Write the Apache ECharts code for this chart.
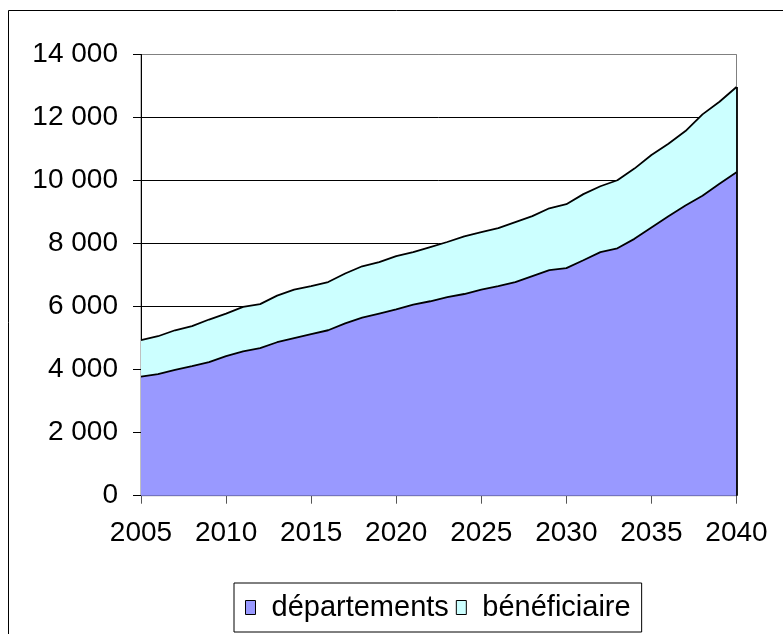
<!DOCTYPE html>
<html>
<head>
<meta charset="utf-8">
<title>départements / bénéficiaire</title>
<script src="https://cdn.jsdelivr.net/npm/echarts@6/dist/echarts.min.js"></script>
<style>
  html, body { margin: 0; padding: 0; background: #fff; }
  #chart { width: 783px; height: 634px; }
</style>
</head>
<body>
<div id="chart"></div>
<script>
  // années 2005 -> 2040
  const years = []
  for (let y = 2005; y <= 2040; y++) years.push(String(y))

  // valeurs
  const departements = [
    3780, 3860, 3990, 4110, 4240, 4430, 4580, 4680, 4870, 5000,
    5130, 5250, 5470, 5650, 5780, 5910, 6060, 6170, 6300, 6400,
    6540, 6650, 6780, 6970, 7160, 7220, 7470, 7730, 7850, 8150,
    8510, 8870, 9210, 9520, 9900, 10260
  ]
  const beneficiaire = [
    1160, 1200, 1260, 1270, 1350, 1350, 1410, 1400, 1480, 1540,
    1520, 1530, 1580, 1630, 1630, 1690, 1670, 1720, 1750, 1830,
    1820, 1840, 1900, 1900, 1960, 2030, 2100, 2090, 2160, 2230,
    2300, 2300, 2360, 2580, 2600, 2710
  ]
  const yTicks = { min: 0, max: 14000, interval: 2000 }

  const font = "'Liberation Sans', Arial, sans-serif"
  const lastIdx = years.length - 1
  const lastTotal = departements[lastIdx] + beneficiaire[lastIdx]

  function fmt(v) {
    return String(v).replace(/\B(?=(\d{3})+(?!\d))/g, ' ')
  }

  const chart = echarts.init(document.getElementById('chart'), null, { renderer: 'canvas' })
  chart.setOption({
    animation: false,
    backgroundColor: '#fff',
    textStyle: { fontFamily: font },
    graphic: [{
      type: 'rect',
      shape: { x: 8.5, y: 10.5, width: 790, height: 640 },
      style: { fill: 'none', stroke: '#000', lineWidth: 1 },
      silent: true
    }],
    grid: {
      left: 141,
      right: 46.5,
      top: 54.5,
      bottom: 138.3,
      show: true,
      borderColor: '#808080',
      borderWidth: 1,
      containLabel: false
    },
    legend: {
      left: 234,
      top: 583,
      orient: 'horizontal',
      icon: 'rect',
      itemWidth: 10,
      itemHeight: 14,
      itemGap: 7,
      padding: [10, 11, 10, 11],
      borderColor: '#000',
      borderWidth: 1,
      itemStyle: { borderColor: '#000', borderWidth: 1 },
      textStyle: { fontFamily: font, fontSize: 29, color: '#000', padding: [0, 0, 0, 11] },
      data: ['départements', 'bénéficiaire']
    },
    xAxis: {
      type: 'category',
      data: years,
      boundaryGap: false,
      axisLine: { lineStyle: { color: '#000', width: 1 } },
      axisTick: { interval: 4, length: 8, lineStyle: { color: '#555' } },
      axisLabel: { interval: 4, margin: 24, fontSize: 28, color: '#000', fontFamily: font },
      splitLine: { show: false }
    },
    yAxis: {
      type: 'value',
      min: yTicks.min,
      max: yTicks.max,
      interval: yTicks.interval,
      axisLine: { show: true, lineStyle: { color: '#000', width: 1 } },
      axisTick: { show: true, length: 8, lineStyle: { color: '#000' } },
      axisLabel: { margin: 23, fontSize: 28, color: '#000', fontFamily: font, formatter: fmt },
      splitLine: {
        show: true,
        lineStyle: {
          color: ['#000', '#000', '#000', '#000', '#000', '#000', '#000', '#808080'],
          width: 1
        }
      }
    },
    series: [
      {
        name: 'départements',
        type: 'line',
        stack: 'total',
        data: departements,
        symbol: 'none',
        itemStyle: { color: '#9999FF', borderColor: '#000', borderWidth: 1 },
        lineStyle: { color: '#000', width: 1.8 },
        areaStyle: { color: '#9999FF', opacity: 1 },
        markLine: {
          silent: true,
          symbol: 'none',
          label: { show: false },
          lineStyle: { color: '#000', width: 1.8, type: 'solid' },
          data: [[{ coord: [years[lastIdx], 0] }, { coord: [years[lastIdx], lastTotal] }]]
        }
      },
      {
        name: 'bénéficiaire',
        type: 'line',
        stack: 'total',
        data: beneficiaire,
        symbol: 'none',
        itemStyle: { color: '#CCFFFF', borderColor: '#000', borderWidth: 1 },
        lineStyle: { color: '#000', width: 1.8 },
        areaStyle: { color: '#CCFFFF', opacity: 1 }
      }
    ]
  })
</script>
</body>
</html>
